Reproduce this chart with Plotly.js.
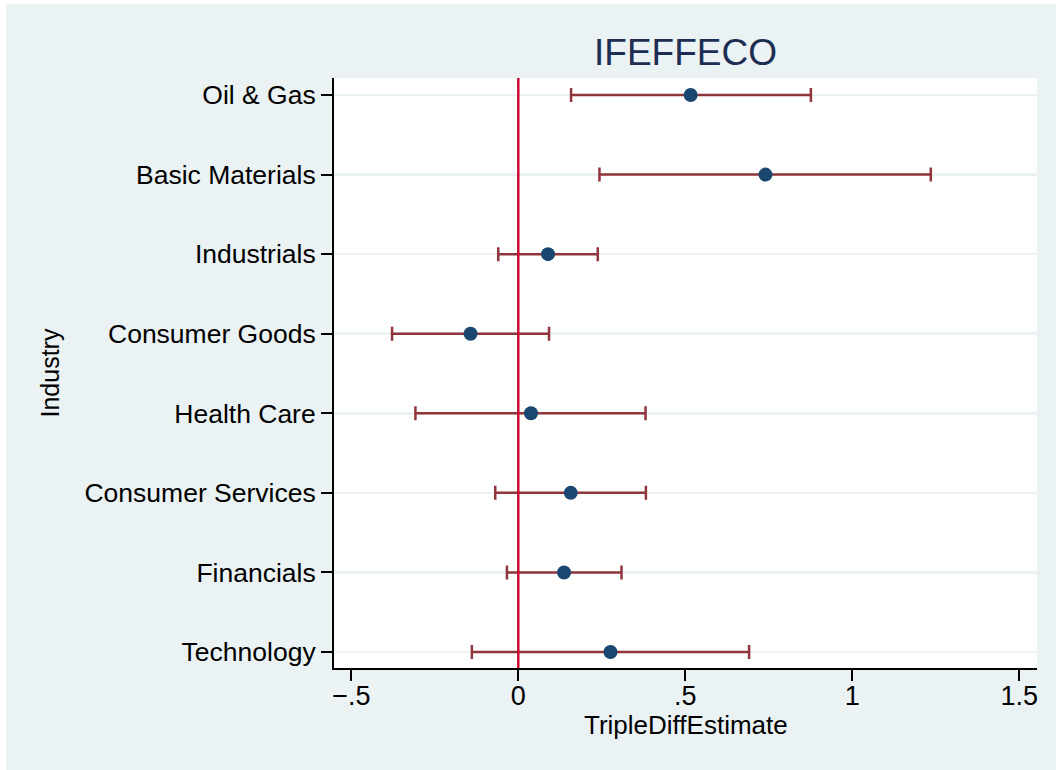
<!DOCTYPE html>
<html>
<head>
<meta charset="utf-8">
<script src="https://cdn.plot.ly/plotly-3.0.1.min.js"></script>
<style>
  html, body { margin: 0; padding: 0; background: #ffffff; }
  #chart { position: absolute; left: 6px; top: 4px; width: 1050px; height: 766px; }
</style>
</head>
<body>
<div id="chart"></div>
<script>
// Data
const industries = ["Oil & Gas", "Basic Materials", "Industrials", "Consumer Goods",
                    "Health Care", "Consumer Services", "Financials", "Technology"];
const estimates = [0.516, 0.740, 0.089, -0.143, 0.038, 0.157, 0.137, 0.276];
const lowerCI   = [0.158, 0.243, -0.060, -0.378, -0.308, -0.069, -0.034, -0.139];
const upperCI   = [0.876, 1.235, 0.238, 0.092, 0.381, 0.382, 0.309, 0.691];
const xTickVals = [-0.5, 0, 0.5, 1, 1.5];
const xTickText = ["\u2212.5", "0", ".5", "1", "1.5"];

const errPlus  = upperCI.map((u, i) => u - estimates[i]);
const errMinus = estimates.map((e, i) => e - lowerCI[i]);

const FONT = "Liberation Sans, Arial, Helvetica, sans-serif";

const trace = {
  type: "scatter",
  mode: "markers",
  x: estimates,
  y: industries,
  marker: { color: "#1A476F", size: 14, symbol: "circle" },
  error_x: {
    type: "data",
    symmetric: false,
    array: errPlus,
    arrayminus: errMinus,
    color: "#90353B",
    thickness: 2.5,
    width: 7
  },
  hoverinfo: "skip",
  showlegend: false
};

const layout = {
  width: 1050,
  height: 766,
  paper_bgcolor: "#EAF2F3",
  plot_bgcolor: "#FFFFFF",
  margin: { l: 328, r: 19, t: 74, b: 102 },
  font: { family: FONT, color: "#000000", size: 26.5 },
  title: {
    text: "IFEFFECO",
    font: { family: FONT, size: 37, color: "#1E2D53" },
    x: 0.5, xref: "paper", xanchor: "center",
    y: 1 - 61 / 766, yref: "container", yanchor: "bottom"
  },
  xaxis: {
    range: [-0.5518, 1.553],
    tickmode: "array",
    tickvals: xTickVals,
    ticktext: xTickText,
    ticks: "outside",
    ticklen: 11,
    tickwidth: 2,
    tickcolor: "#000000",
    ticklabelstandoff: -8,
    showline: true,
    linecolor: "#000000",
    linewidth: 2,
    showgrid: false,
    zeroline: false,
    tickfont: { family: FONT, size: 27, color: "#000000" }
  },
  yaxis: {
    type: "category",
    categoryorder: "array",
    categoryarray: industries,
    range: [7.201, -0.214],
    ticks: "outside",
    ticklen: 11,
    tickwidth: 2,
    tickcolor: "#000000",
    showline: true,
    linecolor: "#000000",
    linewidth: 2,
    showgrid: true,
    gridcolor: "#EAF2F3",
    gridwidth: 2.5,
    zeroline: false,
    tickfont: { family: FONT, size: 26.5, color: "#000000" },
    title: { text: "Industry", font: { family: FONT, size: 25, color: "#000000" }, standoff: 18 }
  },
  annotations: [{
    text: "TripleDiffEstimate",
    xref: "paper", yref: "paper",
    x: 0.5, y: (664 - 721) / 590,
    xanchor: "center", yanchor: "middle",
    showarrow: false,
    font: { family: FONT, size: 26, color: "#000000" }
  }],
  shapes: [{
    type: "line",
    xref: "x", yref: "paper",
    x0: 0, x1: 0, y0: 0, y1: 1,
    line: { color: "#CC0A35", width: 2.5 },
    layer: "above"
  }]
};

Plotly.newPlot("chart", [trace], layout, { displayModeBar: false, staticPlot: true });
</script>
</body>
</html>
